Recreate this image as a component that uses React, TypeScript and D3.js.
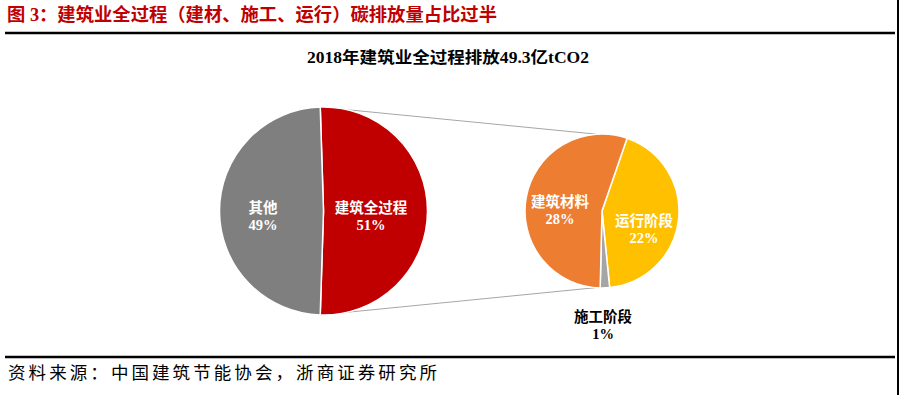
import React from "react";
import * as d3 from "d3";

const TITLE = "图 3：建筑业全过程（建材、施工、运行）碳排放量占比过半";
const SUBTITLE = "2018年建筑业全过程排放49.3亿tCO2";
const SOURCE = "资料来源：中国建筑节能协会，浙商证券研究所";

const mainCategories = ["建筑全过程", "其他"];
const mainValues = [51, 49];
const mainColors = ["#c00000", "#7f7f7f"];

const subCategories = ["运行阶段", "施工阶段", "建筑材料"];
const subValues = [22, 1, 28];
const subColors = ["#ffc000", "#a5a5a5", "#ed7d31"];

const W = 900;
const H = 395;
const FONT = "'Liberation Serif', 'Noto Sans CJK SC', serif";

// layout
const big = { cx: 323.5, cy: 211, r: 104 };
const small = { cx: 602, cy: 211, r: 77, start: (19 * Math.PI) / 180 };
const connectorAngles = [(-4 * Math.PI) / 180, (185 * Math.PI) / 180];
const bigLabelOffsets: Record<string, [number, number]> = {
  "建筑全过程": [47.5, -3],
  "其他": [-60.5, -3],
};
const smallLabelOffsets: Record<string, [number, number, string]> = {
  "运行阶段": [42, 10, "#fff"],
  "建筑材料": [-42, -9, "#fff"],
  "施工阶段": [1, 106, "#000"],
};

const pt = (c: { cx: number; cy: number }, r: number, a: number) => [
  c.cx + r * Math.sin(a),
  c.cy - r * Math.cos(a),
];

export default function App() {
  const bigTotal = d3.sum(mainValues);
  const bigStart = Math.PI / 2 - (mainValues[0] / bigTotal) * Math.PI;
  const bigPie = d3
    .pie<number>()
    .sort(null)
    .value((d) => d)
    .startAngle(bigStart)
    .endAngle(bigStart + 2 * Math.PI)(mainValues);
  const bigArc = d3.arc<d3.PieArcDatum<number>>().innerRadius(0).outerRadius(big.r);

  const smallPie = d3
    .pie<number>()
    .sort(null)
    .value((d) => d)
    .startAngle(small.start)
    .endAngle(small.start + 2 * Math.PI)(subValues);
  const smallArc = d3.arc<d3.PieArcDatum<number>>().innerRadius(0).outerRadius(small.r);

  const red = bigPie[0];
  const c0a = pt(big, big.r, red.startAngle);
  const c0b = pt(small, small.r, connectorAngles[0]);
  const c1a = pt(big, big.r, red.endAngle);
  const c1b = pt(small, small.r, connectorAngles[1]);

  return (
    <svg
      width={W}
      height={H}
      style={{ position: "absolute", left: 0, top: 0, background: "#fff" }}
    >
      <rect x={0} y={0} width={W} height={H} fill="#fff" />
      <text
        x={7}
        y={15}
        dominantBaseline="central"
        fontFamily={FONT}
        fontWeight={700}
        fontSize={18}
        fill="#c00000"
        textLength={490}
        lengthAdjust="spacingAndGlyphs"
      >
        {TITLE}
      </text>
      <line x1={5} x2={895} y1={33} y2={33} stroke="#000" strokeWidth={2.5} />
      <line x1={898} x2={898} y1={0} y2={H} stroke="#000" strokeWidth={2} />

      <text
        x={448}
        y={57}
        textAnchor="middle"
        dominantBaseline="central"
        fontFamily={FONT}
        fontWeight={700}
        fontSize={16}
        fill="#000"
        textLength={282}
        lengthAdjust="spacingAndGlyphs"
      >
        {SUBTITLE}
      </text>

      {/* connectors */}
      <line x1={c0a[0]} y1={c0a[1]} x2={c0b[0]} y2={c0b[1]} stroke="#a6a6a6" strokeWidth={1} />
      <line x1={c1a[0]} y1={c1a[1]} x2={c1b[0]} y2={c1b[1]} stroke="#a6a6a6" strokeWidth={1} />

      <g transform={`translate(${big.cx},${big.cy})`}>
        {bigPie.map((d, i) => (
          <path key={i} d={bigArc(d) || ""} fill={mainColors[i]} stroke="#fff" strokeWidth={1.5} />
        ))}
        {bigPie.map((d, i) => {
          const [dx, dy] = bigLabelOffsets[mainCategories[i]];
          return (
            <g key={"l" + i} fontFamily={FONT} fontWeight={700} fontSize={14.5} fill="#fff" textAnchor="middle">
              <text x={dx} y={dy} dominantBaseline="central">
                {mainCategories[i]}
              </text>
              <text x={dx} y={dy + 17} dominantBaseline="central">
                {mainValues[i] + "%"}
              </text>
            </g>
          );
        })}
      </g>

      <g transform={`translate(${small.cx},${small.cy})`}>
        {smallPie.map((d, i) => (
          <path key={i} d={smallArc(d) || ""} fill={subColors[i]} stroke="#fff" strokeWidth={1.5} />
        ))}
        {smallPie.map((d, i) => {
          const [dx, dy, col] = smallLabelOffsets[subCategories[i]];
          return (
            <g key={"l" + i} fontFamily={FONT} fontWeight={700} fontSize={14.5} fill={col} textAnchor="middle">
              <text x={dx} y={dy} dominantBaseline="central">
                {subCategories[i]}
              </text>
              <text x={dx} y={dy + 17} dominantBaseline="central">
                {subValues[i] + "%"}
              </text>
            </g>
          );
        })}
      </g>

      <line x1={5} x2={895} y1={357} y2={357} stroke="#000" strokeWidth={2.5} />
      <text
        x={8}
        y={373}
        dominantBaseline="central"
        fontFamily={FONT}
        fontWeight={400}
        fontSize={17.5}
        fill="#000"
        textLength={429}
        lengthAdjust="spacing"
      >
        {SOURCE}
      </text>
    </svg>
  );
}
